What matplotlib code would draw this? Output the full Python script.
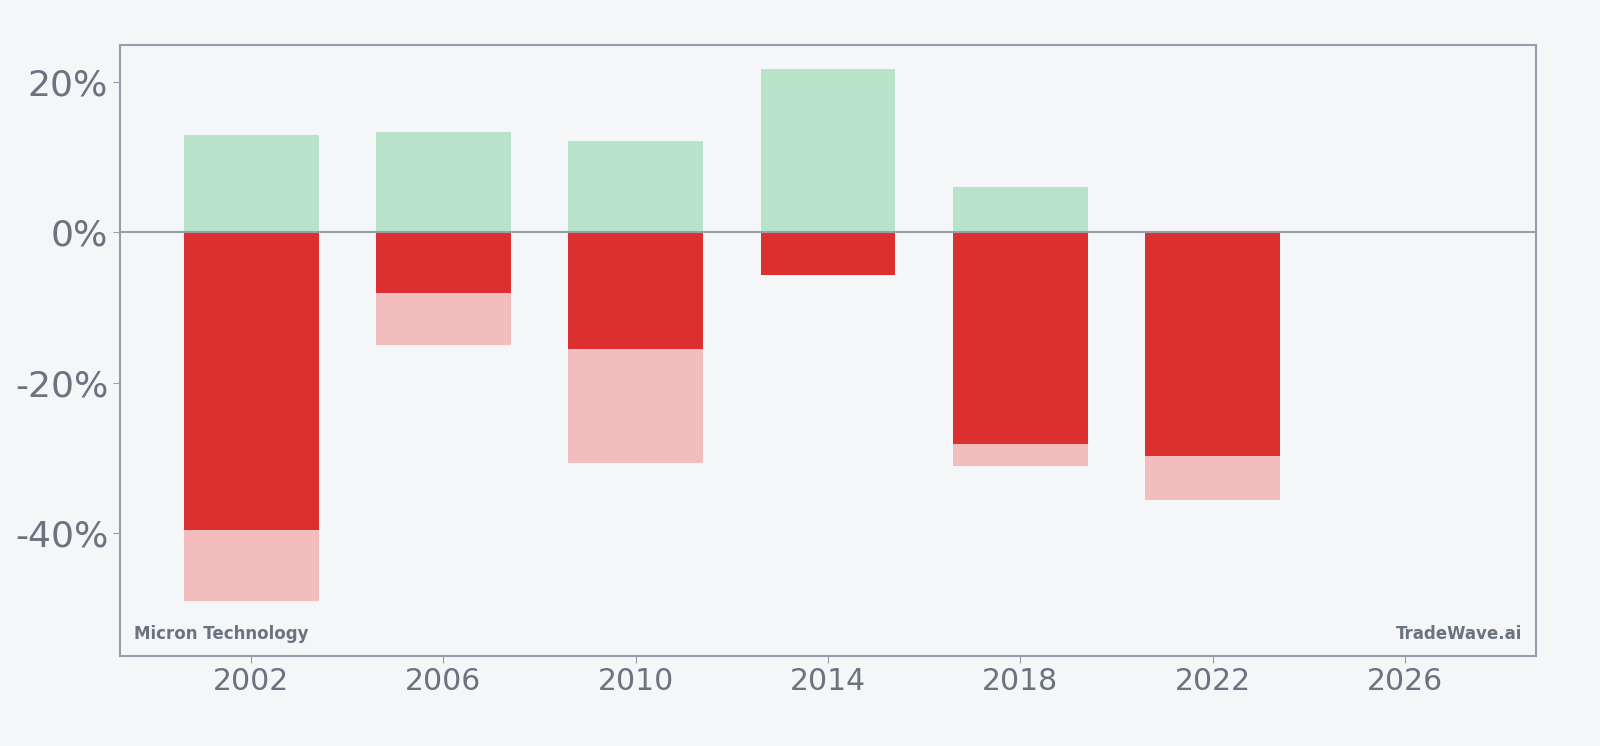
import matplotlib
matplotlib.use("Agg")
import matplotlib.pyplot as plt
from matplotlib.ticker import FuncFormatter

years = [2002, 2006, 2010, 2014, 2018, 2022]
max_gain = [12.9, 13.4, 12.2, 21.7, 6.0, 0.2]
period_return = [-39.5, -8.0, -15.5, -5.6, -28.1, -29.7]
max_drawdown = [-49.0, -14.9, -30.6, -5.6, -31.0, -35.5]

bg = "#f4f6f8"
text_col = "#6b7280"
spine_col = "#9a9cab"

fig = plt.figure(figsize=(16, 7.46), dpi=100, facecolor=bg)
ax = fig.add_axes([0.075, 0.1206, 0.885, 0.819])
ax.set_facecolor(bg)

w = 2.8
ax.bar(years, max_gain, width=w, color="#b8e3c8", zorder=2)
ax.bar(years, max_drawdown, width=w, color="#f3bdbd", zorder=2)
ax.bar(years, period_return, width=w, color="#dc3030", zorder=3)
ax.axhline(0, color=spine_col, lw=1.5, zorder=4)

ax.set_xlim(1999.27, 2028.73)
ax.set_ylim(-56.3, 24.9)
ax.set_xticks([2002, 2006, 2010, 2014, 2018, 2022, 2026])
ax.set_yticks([-40, -20, 0, 20])
ax.yaxis.set_major_formatter(FuncFormatter(lambda v, p: f"{v:.0f}%"))
ax.tick_params(axis="y", labelsize=26, colors=spine_col, labelcolor=text_col, length=5)
ax.tick_params(axis="x", labelsize=21.5, colors=spine_col, labelcolor=text_col,
               length=5, pad=3)
for s in ax.spines.values():
    s.set_color(spine_col)
    s.set_linewidth(1.5)

ax.text(0.01, 0.022, "Micron Technology", transform=ax.transAxes, fontsize=12,
        fontweight="bold", color=text_col, ha="left", va="bottom")
ax.text(0.99, 0.022, "TradeWave.ai", transform=ax.transAxes, fontsize=12,
        fontweight="bold", color=text_col, ha="right", va="bottom")

fig.savefig("out.png", dpi=100, facecolor=bg)
